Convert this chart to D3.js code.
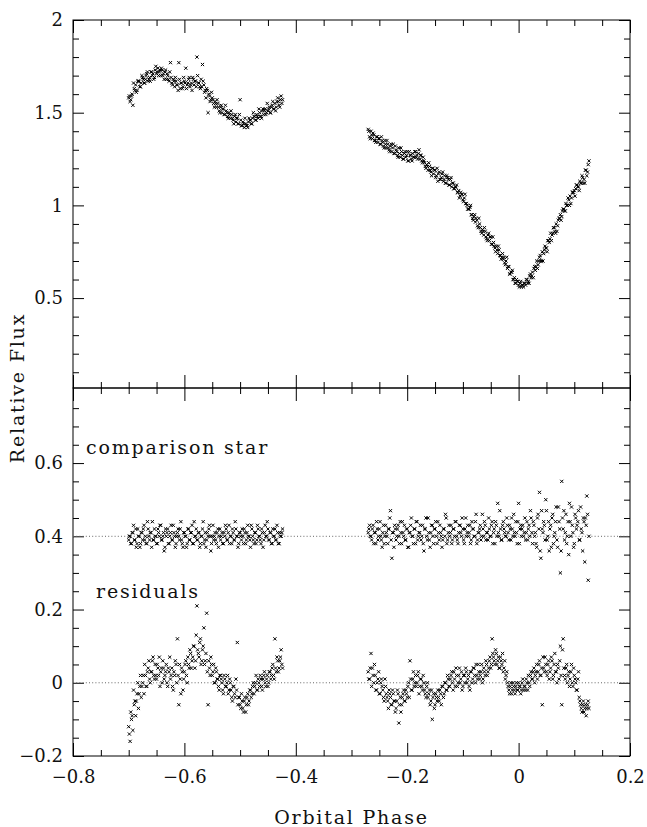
<!DOCTYPE html>
<html><head><meta charset="utf-8">
<script src="https://cdn.jsdelivr.net/npm/d3@7"></script>
<style>
body{margin:0;background:#fff}
text{font-family:"DejaVu Serif",serif;fill:#111}
</style>
</head><body>
<svg id="c" width="647" height="827"></svg>
<script>
// ---- data ----
// two interleaved sets of exposures per observing run
const phase1 = [
-0.7000,-0.6975,-0.6950,-0.6925,-0.6900,-0.6875,-0.6850,-0.6825,-0.6800,-0.6775,
-0.6750,-0.6725,-0.6700,-0.6675,-0.6650,-0.6625,-0.6600,-0.6575,-0.6550,-0.6525,
-0.6500,-0.6475,-0.6450,-0.6425,-0.6400,-0.6375,-0.6350,-0.6325,-0.6300,-0.6275,
-0.6250,-0.6225,-0.6200,-0.6175,-0.6150,-0.6125,-0.6100,-0.6075,-0.6050,-0.6025,
-0.6000,-0.5975,-0.5950,-0.5925,-0.5900,-0.5875,-0.5850,-0.5825,-0.5800,-0.5775,
-0.5750,-0.5725,-0.5700,-0.5675,-0.5650,-0.5625,-0.5600,-0.5575,-0.5550,-0.5525,
-0.5500,-0.5475,-0.5450,-0.5425,-0.5400,-0.5375,-0.5350,-0.5325,-0.5300,-0.5275,
-0.5250,-0.5225,-0.5200,-0.5175,-0.5150,-0.5125,-0.5100,-0.5075,-0.5050,-0.5025,
-0.5000,-0.4975,-0.4950,-0.4925,-0.4900,-0.4875,-0.4850,-0.4825,-0.4800,-0.4775,
-0.4750,-0.4725,-0.4700,-0.4675,-0.4650,-0.4625,-0.4600,-0.4575,-0.4550,-0.4525,
-0.4500,-0.4475,-0.4450,-0.4425,-0.4400,-0.4375,-0.4350,-0.4325,-0.4300,-0.4275,
-0.4250];
const phase1b = [
-0.6988,-0.6963,-0.6938,-0.6913,-0.6888,-0.6863,-0.6838,-0.6813,-0.6788,-0.6763,
-0.6738,-0.6713,-0.6688,-0.6663,-0.6638,-0.6613,-0.6588,-0.6563,-0.6538,-0.6513,
-0.6488,-0.6463,-0.6438,-0.6413,-0.6388,-0.6363,-0.6338,-0.6313,-0.6288,-0.6263,
-0.6238,-0.6213,-0.6188,-0.6163,-0.6138,-0.6113,-0.6088,-0.6063,-0.6038,-0.6013,
-0.5988,-0.5963,-0.5938,-0.5913,-0.5888,-0.5863,-0.5838,-0.5813,-0.5788,-0.5763,
-0.5738,-0.5713,-0.5688,-0.5663,-0.5638,-0.5613,-0.5588,-0.5563,-0.5538,-0.5513,
-0.5488,-0.5463,-0.5438,-0.5413,-0.5388,-0.5363,-0.5338,-0.5313,-0.5288,-0.5263,
-0.5238,-0.5213,-0.5188,-0.5163,-0.5138,-0.5113,-0.5088,-0.5063,-0.5038,-0.5013,
-0.4988,-0.4963,-0.4938,-0.4913,-0.4888,-0.4863,-0.4838,-0.4813,-0.4788,-0.4763,
-0.4738,-0.4713,-0.4688,-0.4663,-0.4638,-0.4613,-0.4588,-0.4563,-0.4538,-0.4513,
-0.4488,-0.4463,-0.4438,-0.4413,-0.4388,-0.4363,-0.4338,-0.4313,-0.4288,-0.4263,
-0.4238];
const phase2 = [
-0.2700,-0.2675,-0.2650,-0.2625,-0.2600,-0.2575,-0.2550,-0.2525,-0.2500,-0.2475,
-0.2450,-0.2425,-0.2400,-0.2375,-0.2350,-0.2325,-0.2300,-0.2275,-0.2250,-0.2225,
-0.2200,-0.2175,-0.2150,-0.2125,-0.2100,-0.2075,-0.2050,-0.2025,-0.2000,-0.1975,
-0.1950,-0.1925,-0.1900,-0.1875,-0.1850,-0.1825,-0.1800,-0.1775,-0.1750,-0.1725,
-0.1700,-0.1675,-0.1650,-0.1625,-0.1600,-0.1575,-0.1550,-0.1525,-0.1500,-0.1475,
-0.1450,-0.1425,-0.1400,-0.1375,-0.1350,-0.1325,-0.1300,-0.1275,-0.1250,-0.1225,
-0.1200,-0.1175,-0.1150,-0.1125,-0.1100,-0.1075,-0.1050,-0.1025,-0.1000,-0.0975,
-0.0950,-0.0925,-0.0900,-0.0875,-0.0850,-0.0825,-0.0800,-0.0775,-0.0750,-0.0725,
-0.0700,-0.0675,-0.0650,-0.0625,-0.0600,-0.0575,-0.0550,-0.0525,-0.0500,-0.0475,
-0.0450,-0.0425,-0.0400,-0.0375,-0.0350,-0.0325,-0.0300,-0.0275,-0.0250,-0.0225,
-0.0200,-0.0175,-0.0150,-0.0125,-0.0100,-0.0075,-0.0050,-0.0025,0.0000,0.0025,
0.0050,0.0075,0.0100,0.0125,0.0150,0.0175,0.0200,0.0225,0.0250,0.0275,
0.0300,0.0325,0.0350,0.0375,0.0400,0.0425,0.0450,0.0475,0.0500,0.0525,
0.0550,0.0575,0.0600,0.0625,0.0650,0.0675,0.0700,0.0725,0.0750,0.0775,
0.0800,0.0825,0.0850,0.0875,0.0900,0.0925,0.0950,0.0975,0.1000,0.1025,
0.1050,0.1075,0.1100,0.1125,0.1150,0.1175,0.1200,0.1225,0.1250];
const phase2b = [
-0.2688,-0.2663,-0.2638,-0.2613,-0.2588,-0.2563,-0.2538,-0.2513,-0.2488,-0.2463,
-0.2438,-0.2413,-0.2388,-0.2363,-0.2338,-0.2313,-0.2288,-0.2263,-0.2238,-0.2213,
-0.2188,-0.2163,-0.2138,-0.2113,-0.2088,-0.2063,-0.2038,-0.2013,-0.1988,-0.1963,
-0.1938,-0.1913,-0.1888,-0.1863,-0.1838,-0.1813,-0.1788,-0.1763,-0.1738,-0.1713,
-0.1688,-0.1663,-0.1638,-0.1613,-0.1588,-0.1563,-0.1538,-0.1513,-0.1488,-0.1463,
-0.1438,-0.1413,-0.1388,-0.1363,-0.1338,-0.1313,-0.1288,-0.1263,-0.1238,-0.1213,
-0.1188,-0.1163,-0.1138,-0.1113,-0.1088,-0.1063,-0.1038,-0.1013,-0.0988,-0.0963,
-0.0938,-0.0913,-0.0888,-0.0863,-0.0838,-0.0813,-0.0788,-0.0763,-0.0738,-0.0713,
-0.0688,-0.0663,-0.0638,-0.0613,-0.0588,-0.0563,-0.0538,-0.0513,-0.0488,-0.0463,
-0.0438,-0.0413,-0.0388,-0.0363,-0.0338,-0.0313,-0.0288,-0.0263,-0.0238,-0.0213,
-0.0188,-0.0163,-0.0138,-0.0113,-0.0088,-0.0063,-0.0038,-0.0013,0.0013,0.0038,
0.0063,0.0088,0.0113,0.0138,0.0163,0.0188,0.0213,0.0238,0.0263,0.0288,
0.0313,0.0338,0.0363,0.0388,0.0413,0.0438,0.0463,0.0488,0.0513,0.0538,
0.0563,0.0588,0.0613,0.0638,0.0663,0.0688,0.0713,0.0738,0.0763,0.0788,
0.0813,0.0838,0.0863,0.0888,0.0913,0.0938,0.0963,0.0988,0.1013,0.1038,
0.1063,0.1088,0.1113,0.1138,0.1163,0.1188,0.1213,0.1238,0.1263];

const flux1 = [
1.58,1.56,1.59,1.54,1.63,1.65,1.62,1.67,1.64,1.66,
1.69,1.66,1.68,1.71,1.67,1.69,1.72,1.70,1.68,1.73,
1.71,1.74,1.72,1.70,1.73,1.71,1.72,1.68,1.70,1.67,
1.77,1.66,1.68,1.64,1.67,1.65,1.77,1.63,1.66,1.64,
1.67,1.74,1.65,1.68,1.64,1.66,1.69,1.65,1.67,1.80,
1.66,1.64,1.68,1.76,1.65,1.62,1.63,1.50,1.59,1.57,
1.58,1.55,1.56,1.53,1.55,1.51,1.53,1.50,1.52,1.49,
1.51,1.48,1.50,1.47,1.49,1.46,1.48,1.45,1.47,1.44,
1.57,1.43,1.45,1.42,1.44,1.43,1.45,1.46,1.44,1.47,
1.48,1.46,1.49,1.47,1.50,1.48,1.51,1.49,1.52,1.50,
1.51,1.53,1.50,1.54,1.52,1.55,1.53,1.58,1.54,1.57,
1.55];
const flux1b = [
1.59,1.57,1.60,1.66,1.62,1.61,1.67,1.67,1.64,1.70,
1.68,1.66,1.70,1.72,1.68,1.67,1.72,1.71,1.69,1.75,
1.72,1.70,1.73,1.74,1.70,1.68,1.73,1.71,1.68,1.72,
1.69,1.65,1.67,1.69,1.65,1.62,1.68,1.66,1.63,1.69,
1.66,1.63,1.66,1.69,1.65,1.62,1.68,1.67,1.64,1.70,
1.66,1.63,1.64,1.67,1.61,1.58,1.62,1.60,1.56,1.61,
1.57,1.53,1.55,1.57,1.53,1.50,1.54,1.52,1.49,1.54,
1.50,1.47,1.49,1.51,1.47,1.44,1.49,1.47,1.44,1.49,
1.46,1.43,1.44,1.47,1.43,1.42,1.47,1.46,1.44,1.50,
1.48,1.46,1.48,1.52,1.48,1.47,1.52,1.51,1.49,1.55,
1.52,1.50,1.53,1.56,1.52,1.51,1.56,1.56,1.53,1.59,
1.57];
const flux2 = [
1.41,1.37,1.40,1.36,1.38,1.35,1.37,1.34,1.36,1.33,
1.35,1.32,1.35,1.31,1.33,1.30,1.32,1.29,1.33,1.28,
1.30,1.27,1.31,1.26,1.29,1.25,1.28,1.26,1.29,1.24,
1.27,1.25,1.28,1.26,1.29,1.27,1.28,1.25,1.27,1.23,
1.24,1.21,1.22,1.19,1.21,1.18,1.20,1.17,1.19,1.16,
1.13,1.18,1.14,1.17,1.13,1.16,1.12,1.15,1.11,1.14,
1.10,1.12,1.09,1.10,1.07,1.08,1.05,1.06,1.03,1.04,
1.01,1.00,0.98,0.99,0.95,0.93,0.94,0.91,0.92,0.88,
0.90,0.86,0.87,0.84,0.86,0.82,0.84,0.81,0.83,0.79,
0.80,0.77,0.78,0.74,0.76,0.73,0.72,0.71,0.69,0.70,
0.66,0.67,0.63,0.64,0.60,0.61,0.58,0.59,0.57,0.58,
0.56,0.57,0.58,0.57,0.60,0.59,0.62,0.61,0.64,0.66,
0.65,0.70,0.68,0.72,0.70,0.75,0.74,0.78,0.77,0.81,
0.80,0.85,0.84,0.88,0.86,0.90,0.89,0.93,0.95,0.94,
0.98,0.97,1.01,1.00,1.03,1.05,1.04,1.07,1.08,1.09,
1.11,1.10,1.13,1.12,1.15,1.14,1.19,1.16,1.22];
const flux2b = [
1.40,1.36,1.38,1.39,1.35,1.34,1.37,1.36,1.33,1.37,
1.34,1.31,1.33,1.35,1.31,1.29,1.33,1.31,1.28,1.32,
1.29,1.26,1.28,1.31,1.27,1.25,1.29,1.27,1.24,1.29,
1.27,1.24,1.26,1.29,1.26,1.25,1.30,1.27,1.24,1.26,
1.23,1.20,1.21,1.23,1.19,1.16,1.20,1.19,1.15,1.20,
1.17,1.14,1.15,1.18,1.14,1.12,1.16,1.14,1.11,1.15,
1.12,1.09,1.10,1.11,1.07,1.04,1.07,1.06,1.02,1.06,
1.01,0.98,0.98,1.00,0.95,0.92,0.95,0.93,0.89,0.93,
0.88,0.85,0.86,0.88,0.83,0.81,0.85,0.83,0.79,0.83,
0.78,0.75,0.76,0.78,0.73,0.71,0.74,0.72,0.68,0.72,
0.67,0.63,0.64,0.65,0.60,0.58,0.60,0.59,0.56,0.59,
0.57,0.56,0.58,0.60,0.58,0.58,0.63,0.62,0.61,0.67,
0.67,0.66,0.70,0.73,0.70,0.70,0.76,0.77,0.75,0.81,
0.82,0.81,0.85,0.88,0.85,0.86,0.92,0.93,0.92,0.97,
0.98,0.97,1.00,1.04,1.00,1.01,1.07,1.07,1.05,1.11,
1.10,1.08,1.12,1.16,1.12,1.12,1.19,1.18,1.24];

const comp1 = [
0.39,0.40,0.38,0.41,0.39,0.42,0.38,0.40,0.37,0.41,
0.39,0.43,0.40,0.38,0.42,0.39,0.41,0.44,0.39,0.40,
0.38,0.42,0.40,0.43,0.39,0.41,0.37,0.40,0.42,0.38,
0.41,0.39,0.43,0.40,0.38,0.41,0.40,0.42,0.39,0.37,
0.41,0.40,0.38,0.42,0.39,0.41,0.38,0.44,0.40,0.39,
0.41,0.37,0.40,0.42,0.38,0.41,0.39,0.40,0.43,0.36,
0.40,0.39,0.41,0.38,0.42,0.40,0.39,0.41,0.38,0.40,
0.42,0.39,0.43,0.40,0.38,0.41,0.39,0.42,0.40,0.38,
0.41,0.39,0.40,0.42,0.38,0.41,0.40,0.39,0.43,0.40,
0.38,0.41,0.39,0.42,0.40,0.38,0.41,0.39,0.43,0.40,
0.42,0.39,0.41,0.38,0.40,0.42,0.39,0.41,0.38,0.40,
0.41];
const comp1b = [
0.40,0.38,0.41,0.43,0.39,0.37,0.42,0.40,0.38,0.41,
0.42,0.39,0.38,0.44,0.40,0.41,0.37,0.39,0.42,0.40,
0.38,0.41,0.43,0.39,0.40,0.36,0.42,0.41,0.38,0.40,
0.43,0.39,0.41,0.37,0.40,0.42,0.39,0.44,0.38,0.41,
0.40,0.37,0.42,0.39,0.41,0.43,0.38,0.40,0.42,0.39,
0.41,0.38,0.40,0.44,0.39,0.37,0.41,0.42,0.40,0.38,
0.43,0.40,0.39,0.41,0.37,0.42,0.40,0.38,0.41,0.43,
0.39,0.41,0.38,0.40,0.42,0.39,0.44,0.40,0.37,0.41,
0.40,0.42,0.38,0.41,0.39,0.43,0.40,0.37,0.42,0.39,
0.41,0.38,0.43,0.40,0.39,0.42,0.37,0.41,0.40,0.44,
0.39,0.41,0.38,0.42,0.40,0.39,0.43,0.38,0.41,0.40,
0.42];
const comp2 = [
0.41,0.43,0.40,0.42,0.38,0.41,0.44,0.39,0.42,0.40,
0.37,0.43,0.40,0.41,0.38,0.42,0.47,0.34,0.41,0.43,
0.39,0.42,0.40,0.44,0.38,0.41,0.43,0.39,0.42,0.37,
0.41,0.45,0.40,0.42,0.38,0.44,0.40,0.41,0.39,0.43,
0.36,0.42,0.40,0.45,0.39,0.41,0.43,0.38,0.42,0.40,
0.44,0.39,0.41,0.37,0.42,0.40,0.45,0.39,0.43,0.41,
0.38,0.42,0.40,0.44,0.39,0.41,0.43,0.40,0.42,0.38,
0.45,0.41,0.40,0.43,0.39,0.42,0.40,0.44,0.38,0.41,
0.42,0.39,0.46,0.40,0.43,0.41,0.39,0.42,0.40,0.44,
0.41,0.38,0.43,0.49,0.40,0.42,0.39,0.44,0.41,0.40,
0.43,0.39,0.42,0.45,0.40,0.41,0.44,0.38,0.49,0.42,
0.40,0.43,0.41,0.39,0.44,0.42,0.40,0.45,0.38,0.43,
0.41,0.37,0.46,0.52,0.34,0.42,0.44,0.39,0.47,0.40,
0.36,0.43,0.45,0.38,0.41,0.48,0.37,0.44,0.30,0.55,
0.42,0.39,0.46,0.40,0.35,0.44,0.48,0.41,0.38,0.45,
0.43,0.47,0.39,0.42,0.36,0.44,0.45,0.51,0.28];
const comp2b = [
0.42,0.40,0.39,0.43,0.41,0.38,0.42,0.40,0.44,0.39,
0.41,0.38,0.43,0.40,0.42,0.45,0.39,0.41,0.37,0.42,
0.40,0.43,0.38,0.41,0.44,0.40,0.39,0.42,0.37,0.41,
0.43,0.40,0.38,0.42,0.44,0.39,0.41,0.43,0.40,0.38,
0.42,0.45,0.39,0.41,0.37,0.43,0.40,0.42,0.44,0.38,
0.41,0.43,0.40,0.39,0.42,0.46,0.38,0.41,0.40,0.43,
0.39,0.42,0.44,0.40,0.38,0.43,0.41,0.45,0.39,0.42,
0.40,0.43,0.41,0.38,0.44,0.42,0.40,0.46,0.39,0.41,
0.43,0.40,0.42,0.44,0.39,0.41,0.45,0.40,0.43,0.38,
0.42,0.44,0.40,0.41,0.47,0.39,0.43,0.42,0.40,0.45,
0.41,0.43,0.39,0.42,0.46,0.40,0.41,0.44,0.38,0.43,
0.42,0.40,0.45,0.41,0.39,0.43,0.47,0.41,0.44,0.40,
0.38,0.45,0.42,0.36,0.47,0.41,0.43,0.50,0.39,0.44,
0.42,0.37,0.46,0.40,0.44,0.39,0.48,0.42,0.36,0.45,
0.47,0.41,0.38,0.44,0.49,0.40,0.43,0.37,0.46,0.42,
0.44,0.39,0.48,0.41,0.45,0.33,0.43,0.46,0.40];

const resid1 = [
-0.12,-0.16,-0.10,-0.13,-0.06,-0.09,-0.03,-0.07,-0.01,-0.04,
0.00,-0.03,0.02,-0.01,0.04,0.01,0.03,0.06,0.02,0.05,
0.01,0.04,0.07,0.03,0.00,0.04,0.02,0.05,-0.01,0.03,
0.01,0.04,-0.02,0.02,0.05,0.12,-0.06,0.01,0.04,-0.02,
0.03,0.06,0.00,0.05,0.09,0.04,0.07,0.10,0.06,0.21,
0.08,0.11,0.05,0.09,0.15,0.06,0.19,-0.06,0.04,0.07,
0.02,0.05,0.00,0.03,0.01,-0.02,0.02,0.00,-0.03,0.01,
-0.01,0.02,-0.02,0.00,-0.04,-0.01,-0.03,0.01,0.11,-0.04,
-0.06,-0.03,-0.07,-0.05,-0.08,-0.04,-0.06,-0.02,-0.04,-0.01,
-0.03,0.00,-0.02,0.01,-0.01,0.01,-0.02,0.02,0.00,0.01,
-0.01,0.03,0.01,0.04,0.02,0.12,0.03,0.06,0.04,0.07,
0.05];
const resid1b = [
-0.14,-0.08,-0.09,-0.02,-0.05,-0.05,0.00,-0.03,0.02,-0.01,
0.02,0.05,-0.01,0.03,0.06,0.00,0.03,0.07,0.01,0.02,
0.05,0.02,-0.01,0.04,0.06,0.01,0.03,0.00,0.04,0.07,
0.02,-0.01,0.03,0.06,0.00,0.02,0.05,-0.03,0.03,0.01,
0.05,0.02,0.07,0.04,0.08,0.06,0.10,0.04,0.13,0.09,
0.07,0.12,0.06,0.10,0.05,0.08,0.03,0.06,0.02,0.05,
0.03,0.00,0.04,0.01,-0.01,0.02,0.01,-0.02,0.02,-0.01,
0.00,-0.03,0.01,-0.02,-0.05,-0.01,-0.04,-0.02,-0.06,-0.04,
-0.07,-0.05,-0.08,-0.04,-0.06,-0.03,-0.05,-0.02,-0.03,0.00,
-0.01,0.02,-0.02,0.00,0.02,-0.01,0.01,0.03,-0.01,0.02,
0.00,0.03,0.02,0.05,0.01,0.04,0.07,0.03,0.06,0.09,
0.04];
const resid2 = [
0.03,0.01,0.08,0.04,0.00,0.02,-0.02,0.01,-0.03,0.00,
-0.01,-0.04,0.01,-0.03,-0.05,-0.02,-0.04,-0.06,-0.03,-0.05,
-0.07,-0.02,-0.11,-0.04,-0.06,-0.03,-0.05,-0.02,-0.04,0.00,
0.06,-0.02,0.01,-0.01,0.02,0.00,0.03,-0.01,0.01,-0.02,
0.00,-0.03,-0.01,-0.04,-0.02,-0.05,-0.10,-0.03,-0.06,-0.04,
-0.02,-0.05,-0.03,-0.01,-0.04,0.00,-0.02,0.02,-0.01,0.01,
0.03,-0.02,0.01,0.04,-0.01,0.02,0.00,0.03,-0.01,0.02,
0.04,0.00,0.02,-0.02,0.03,0.01,0.04,0.00,0.02,0.05,
0.01,0.03,0.00,0.04,0.02,0.05,0.03,0.06,0.04,0.12,
0.07,0.05,0.08,0.06,0.04,0.07,0.05,0.03,0.06,0.02,
0.00,-0.02,-0.01,-0.03,0.00,-0.02,-0.01,-0.02,0.00,-0.01,
-0.02,0.01,-0.01,-0.02,0.00,0.02,-0.01,0.03,0.01,0.04,
0.02,0.05,0.03,0.06,0.02,-0.06,0.04,0.07,0.03,0.05,
0.01,0.04,0.06,0.02,0.08,0.03,0.05,0.01,0.10,-0.06,
0.12,0.02,0.04,0.00,0.03,0.01,0.05,-0.01,0.02,0.00,
-0.02,0.03,-0.05,-0.07,-0.06,-0.08,-0.06,-0.07,-0.05];
const resid2b = [
0.01,0.04,-0.01,0.02,0.05,-0.02,0.00,0.03,-0.03,0.01,
-0.02,-0.05,-0.01,-0.04,-0.07,-0.03,-0.06,-0.02,-0.05,-0.08,
-0.05,-0.03,-0.06,-0.08,-0.04,-0.02,-0.05,-0.03,-0.01,-0.04,
0.01,-0.02,0.03,0.00,-0.01,0.02,-0.03,0.01,-0.01,0.02,
-0.02,-0.04,0.00,-0.03,-0.06,-0.02,-0.04,-0.07,-0.03,-0.05,
-0.04,-0.02,-0.06,-0.01,-0.03,0.00,-0.02,0.01,-0.01,0.02,
0.00,0.03,-0.01,0.02,0.00,0.04,0.01,-0.02,0.02,0.00,
0.03,0.01,-0.01,0.03,0.00,0.04,0.02,0.05,0.01,0.03,
0.02,0.05,0.01,0.03,0.06,0.02,0.04,0.07,0.05,0.08,
0.06,0.09,0.05,0.07,0.04,0.06,0.08,0.04,0.01,0.03,
-0.01,-0.03,0.00,-0.02,-0.01,-0.03,0.00,-0.02,-0.01,-0.03,
0.00,-0.02,-0.01,0.01,-0.02,0.00,0.02,0.01,0.03,0.00,
0.03,0.01,0.05,0.02,0.04,0.07,0.03,0.05,0.02,0.06,
0.03,0.07,0.01,0.05,0.03,0.00,0.04,0.06,0.02,0.09,
0.04,0.01,0.05,0.02,-0.01,0.03,0.00,0.04,0.01,-0.02,
0.01,-0.04,-0.06,-0.08,-0.05,-0.07,-0.09,-0.06,-0.07];

const xTicks = [-0.8,-0.6,-0.4,-0.2,0,0.2];
const xTickLabels = ["\u22120.8","\u22120.6","\u22120.4","\u22120.2","0","0.2"];
const topTicks = [0.5,1,1.5,2];
const topTickLabels = ["0.5","1","1.5","2"];
const botTicks = [-0.2,0,0.2,0.4,0.6];
const botTickLabels = ["\u22120.2","0","0.2","0.4","0.6"];
const refLines = [0.4, 0];

// ---- layout ----
const L = 73, R = 630, T = 20, M = 388, B = 756;
const x = d3.scaleLinear().domain([-0.8, 0.2]).range([L, R]);
const yTop = d3.scaleLinear().domain([0.015, 2]).range([M, T]);
const yBot = d3.scaleLinear().domain([-0.2, 0.805]).range([B, M]);

const svg = d3.select("#c");

const near = (a, list) => list.some(v => Math.abs(v - a) < 1e-6);
const xMinor = d3.range(-0.8, 0.2001, 0.05).map(v => +v.toFixed(3)).filter(v => !near(v, xTicks));
const topMinor = d3.range(0.1, 2.0001, 0.1).map(v => +v.toFixed(3)).filter(v => !near(v, topTicks));
const botMinor = d3.range(-0.15, 0.7501, 0.05).map(v => +v.toFixed(3)).filter(v => !near(v, botTicks));

function axis(gen, tx, ty, values, size, fmt, pad) {
  const a = gen.tickValues(values).tickSize(size).tickSizeOuter(0)
    .tickPadding(pad || 0).tickFormat(fmt || (() => ""));
  const g = svg.append("g").attr("transform", `translate(${tx},${ty})`).call(a);
  g.select(".domain").remove();
  g.selectAll("line").attr("stroke", "#000").attr("stroke-width", 1);
  g.selectAll("text").attr("font-size", 18).attr("font-family", "DejaVu Serif").attr("fill", "#111");
  return g;
}
const XMAJ = -13, XMIN = -6, YMAJ = -11, YMIN = -6;

// top panel
axis(d3.axisLeft(yTop), L, 0, topTicks, YMAJ, (d, i) => topTickLabels[i], 10);
axis(d3.axisLeft(yTop), L, 0, topMinor, YMIN);
axis(d3.axisRight(yTop), R, 0, topTicks, YMAJ);
axis(d3.axisRight(yTop), R, 0, topMinor, YMIN);
axis(d3.axisTop(x), 0, T, xTicks, XMAJ);
axis(d3.axisTop(x), 0, T, xMinor, XMIN);
axis(d3.axisBottom(x), 0, M, xTicks, XMAJ);
axis(d3.axisBottom(x), 0, M, xMinor, XMIN);
// bottom panel
axis(d3.axisLeft(yBot), L, 0, botTicks, YMAJ, (d, i) => botTickLabels[i], 10);
axis(d3.axisLeft(yBot), L, 0, botMinor, YMIN);
axis(d3.axisRight(yBot), R, 0, botTicks, YMAJ);
axis(d3.axisRight(yBot), R, 0, botMinor, YMIN);
axis(d3.axisTop(x), 0, M, xTicks, XMAJ);
axis(d3.axisTop(x), 0, M, xMinor, XMIN);
axis(d3.axisBottom(x), 0, B, xTicks, XMAJ, (d, i) => xTickLabels[i], 14);
axis(d3.axisBottom(x), 0, B, xMinor, XMIN);

// frames
svg.append("rect").attr("x", L).attr("y", T).attr("width", R - L).attr("height", M - T)
  .attr("fill", "none").attr("stroke", "#000").attr("stroke-width", 1);
svg.append("rect").attr("x", L).attr("y", M).attr("width", R - L).attr("height", B - M)
  .attr("fill", "none").attr("stroke", "#000").attr("stroke-width", 1);

// dotted reference lines
svg.append("g").selectAll("line").data(refLines).join("line")
  .attr("x1", L).attr("x2", R).attr("y1", d => yBot(d)).attr("y2", d => yBot(d))
  .attr("stroke", "#666").attr("stroke-width", 1).attr("stroke-dasharray", "1,2.2");

// markers
const cross = "M-1.6,-1.6L1.6,1.6M-1.6,1.6L1.6,-1.6";
function points(ph, vals, y) {
  svg.append("g").selectAll("path").data(ph.map((p, i) => [p, vals[i]])).join("path")
    .attr("d", cross)
    .attr("transform", d => `translate(${x(d[0])},${y(d[1])})`)
    .attr("stroke", "#000").attr("stroke-width", 1).attr("fill", "none");
}
points(phase1, flux1, yTop);
points(phase1b, flux1b, yTop);
points(phase2, flux2, yTop);
points(phase2b, flux2b, yTop);
points(phase1, comp1, yBot);
points(phase1b, comp1b, yBot);
points(phase2, comp2, yBot);
points(phase2b, comp2b, yBot);
points(phase1, resid1, yBot);
points(phase1b, resid1b, yBot);
points(phase2, resid2, yBot);
points(phase2b, resid2b, yBot);

// texts
const lab = (t, tx, ty, anchor) => svg.append("text").attr("x", tx).attr("y", ty)
  .attr("font-size", 19).attr("letter-spacing", "1.8px").attr("text-anchor", anchor || "start").text(t);
lab("comparison star", 86, 454);
lab("residuals", 96, 598);
lab("Orbital Phase", (L + R) / 2, 824, "middle");
svg.append("text").attr("transform", `translate(24,${(T + B) / 2}) rotate(-90)`)
  .attr("font-size", 19).attr("letter-spacing", "1.8px").attr("text-anchor", "middle").text("Relative Flux");
</script>
</body></html>
